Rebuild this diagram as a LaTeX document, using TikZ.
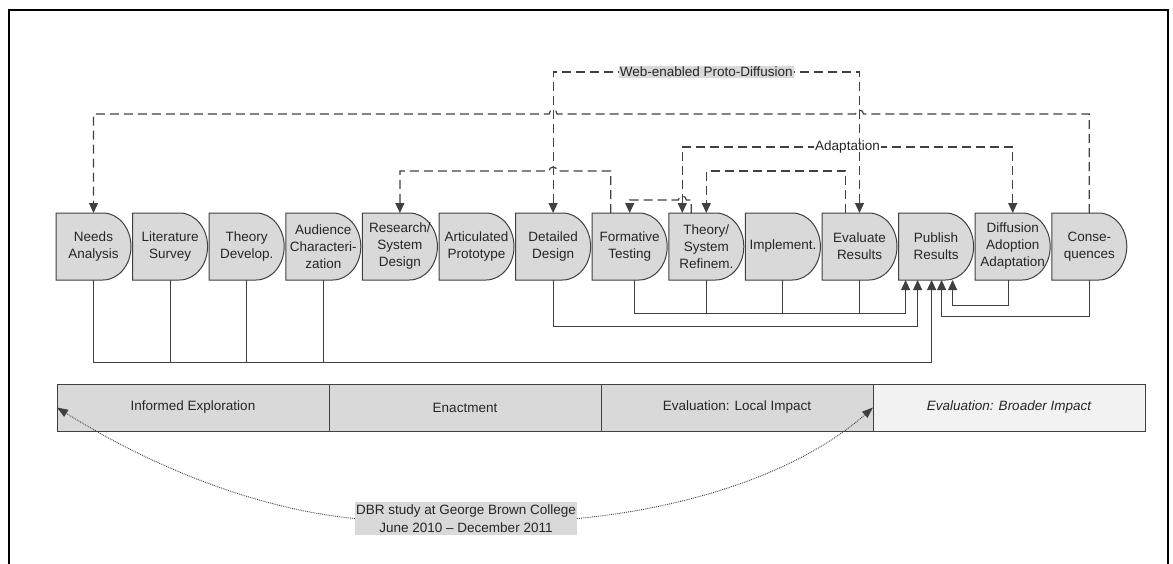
\documentclass[tikz,border=0pt]{standalone}
\usepackage{fontspec}
\setmainfont{Liberation Sans}
\usepackage{tikz}
\usetikzlibrary{arrows.meta, positioning, backgrounds}
\definecolor{stepgray}{RGB}{217,217,217}
\definecolor{palegray}{RGB}{242,242,242}
\definecolor{linegray}{RGB}{64,64,64}
\definecolor{textgray}{RGB}{38,38,38}

\begin{document}
\begin{tikzpicture}[
    x=1pt, y=-1pt,
    font=\fontsize{13.5}{17}\selectfont,
    node distance=1.6pt,
    >={Triangle[length=10pt, width=9pt]},
    stepbox/.style={rectangle, minimum width=75pt, minimum height=67pt, text width=72pt, inner xsep=1.5pt, inner ysep=0pt, outer sep=0pt, align=center, text=textgray},
    delay/.style={draw=linegray, line width=1pt, fill=stepgray},
    phase/.style={rectangle, draw=linegray, line width=1pt, fill=stepgray, minimum width=272pt, minimum height=47pt, inner sep=0pt, outer sep=0pt, text=textgray},
    link/.style={draw=linegray, line width=0.9pt},
    linkarrow/.style={link, ->},
    flow/.style={draw=linegray, line width=1.2pt, dash pattern=on 9pt off 5pt},
    flowlabel/.style={inner sep=1pt, text=textgray},
    dotlink/.style={draw=linegray, line width=0.9pt, densely dotted, -{Triangle[length=11pt, width=8pt]}}
]
\useasboundingbox (0,0) rectangle (1173,563);
\draw[line width=2.2pt] (9,570) -- (9,10) -- (1168,10) -- (1168,570);

\node[stepbox] (needs) at (93.5,246.5) {Needs\\Analysis};
\node[stepbox, right=of needs] (litsurvey) {Literature\\Survey};
\node[stepbox, right=of litsurvey] (theorydev) {Theory\\Develop.};
\node[stepbox, right=of theorydev] (audience) {Audience\\Characteri-\\zation};
\node[stepbox, right=of audience] (sysdesign) {Research/\\System\\Design};
\node[stepbox, right=of sysdesign] (prototype) {Articulated\\Prototype};
\node[stepbox, right=of prototype] (detdesign) {Detailed\\Design};
\node[stepbox, right=of detdesign] (formative) {Formative\\Testing};
\node[stepbox, right=of formative] (refine) {Theory/\\System\\Refinem.};
\node[stepbox, right=of refine] (implement) {Implement.};
\node[stepbox, right=of implement] (evaluate) {Evaluate\\Results};
\node[stepbox, right=of evaluate] (publish) {Publish\\Results};
\node[stepbox, right=of publish] (diffusion) {Diffusion\\Adoption\\Adaptation};
\node[stepbox, right=of diffusion] (conseq) {Conse-\\quences};

\begin{scope}[on background layer]
\foreach \n in {needs, litsurvey, theorydev, audience, sysdesign, prototype, detdesign, formative, refine, implement, evaluate, publish, diffusion, conseq}
    \draw[delay] (\n.north west) -- ++(47,0) arc[x radius=28pt, y radius=33.5pt, start angle=90, end angle=-90] -- (\n.south west) -- cycle;
\end{scope}

\draw[linkarrow] ([xshift=5pt]formative.south) -- ++(0,33) -| ([xshift=-30.5pt]publish.south);
\draw[link] (refine.south) -- ++(0,33);
\draw[link] (implement.south) -- ++(0,33);
\draw[link] (evaluate.south) -- ++(0,33);
\draw[linkarrow] (detdesign.south) -- ++(0,46.5) -| ([xshift=-18.5pt]publish.south);
\draw[linkarrow] (needs.south) -- ++(0,82) -| ([xshift=-4.5pt]publish.south);
\draw[link] (litsurvey.south) -- ++(0,82);
\draw[link] (theorydev.south) -- ++(0,82);
\draw[link] (audience.south) -- ++(0,82);
\draw[linkarrow] (conseq.south) -- ++(0,36) -| ([xshift=5.5pt]publish.south);
\draw[linkarrow] ([xshift=-4pt]diffusion.south) -- ++(0,25) -| ([xshift=16.5pt]publish.south);

\draw[flow, <->] ([xshift=-24pt]refine.north) -- ++(0,-66) -| node[pos=0.25, flowlabel, fill=white] {Adaptation} (diffusion.north);
\draw[flow, ->] ([xshift=-15pt]refine.north) -- ++(0,-13) -- ++(-5,0) arc[start angle=0, end angle=180, radius=4pt] -| (formative.north);
\draw[flow, ->] ([xshift=-14pt]evaluate.north) -- ++(0,-42) -| (refine.north);
\draw[flow, ->] ([xshift=-19pt]formative.north) -- ++(0,-42) -- ++(-53.6,0) arc[start angle=0, end angle=180, radius=4pt] -| (sysdesign.north);
\draw[flow, ->] (conseq.north) -- ++(0,-99) -- ++(-225.8,0) arc[start angle=0, end angle=180, radius=4pt] -- ++(-298.4,0) arc[start angle=0, end angle=180, radius=4pt] -| (needs.north);
\draw[flow, <->] (detdesign.north) -- ++(0,-141) -| node[pos=0.25, flowlabel, fill=stepgray] {Web-enabled Proto-Diffusion} (evaluate.north);

\node[phase] (explore) at (193,407.5) {Informed Exploration};
\node[phase, right=0pt of explore] (enact) {Enactment};
\node[phase, right=0pt of enact] (local) {Evaluation: Local Impact};
\node[phase, right=0pt of local, fill=palegray, font=\fontsize{13.5}{17}\selectfont\itshape] (broad) {Evaluation: Broader Impact};

\node[fill=stepgray, inner xsep=1pt, inner ysep=3pt, align=center, text=textgray, font=\fontsize{13.5}{18}\selectfont] (study) at (466,518.5) {DBR study at George Brown College\\June 2010 – December 2011};
\draw[dotlink] (study.west) .. controls (265,510) and (160,472) .. (explore.west);
\draw[dotlink] (study.east) .. controls (690,508) and (800,472) .. (local.east);
\end{tikzpicture}
\end{document}
